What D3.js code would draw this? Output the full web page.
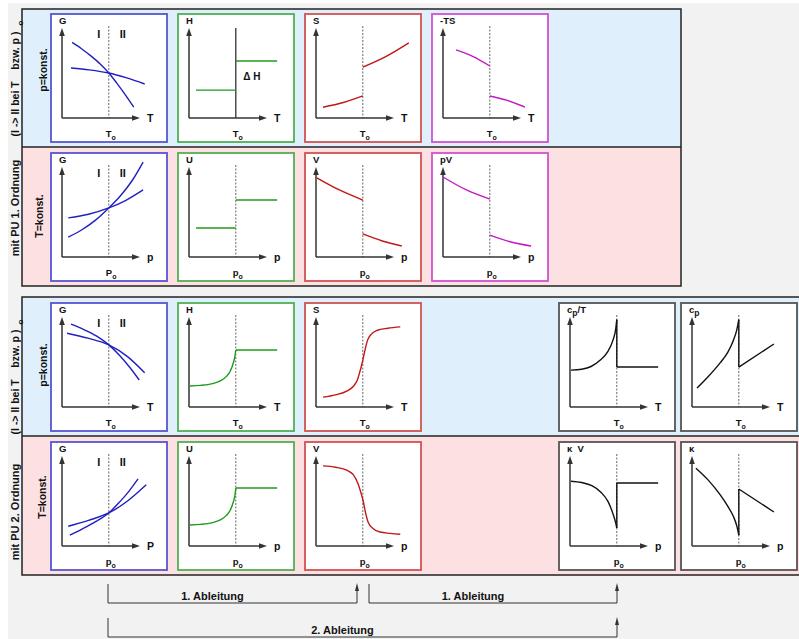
<!DOCTYPE html>
<html><head><meta charset="utf-8">
<script src="https://cdn.jsdelivr.net/npm/d3@7"></script>
<style>
html,body{margin:0;padding:0;background:#fff;}
svg{display:block;font-family:"Liberation Sans",Arial,Helvetica,sans-serif;font-weight:bold;}
</style>
</head><body>
<svg id="chart" width="799" height="639"></svg>
<script>
// ================= DATA =================
const transition = 6.0;            // T_o / p_o position on every x axis (domain 0..10)
const domain = [0, 10];

// --- Phase transition 1st order, p = konst. ---
const gT1_I   = [[1.3,8.4],[2.5,7.7],[3.7,6.9],[4.9,6.0],[6.0,5.0],[7.0,3.9],[8.1,2.6],[9.2,1.2]];
const gT1_II  = [[1.15,5.56],[3.5,5.35],[6.0,5.0],[8.3,4.45],[10.6,3.78]];
const h1_low  = [[0.9,3.1],[6.0,3.1]];
const h1_high = [[6.0,6.33],[11.3,6.33]];
const s1_low  = [[0.9,1.2],[3.5,1.72],[6.0,2.45]];
const s1_high = [[6.0,5.65],[9.0,6.85],[11.9,8.35]];
const ts1_high= [[1.67,7.56],[3.8,6.85],[6.0,5.78]];
const ts1_low = [[6.0,2.44],[8.25,1.95],[10.5,1.22]];

// --- Phase transition 1st order, T = konst. ---
const gp1_I   = [[0.8,2.2],[2.5,3.0],[4.3,4.1],[6.0,5.45],[7.5,6.8],[9.0,8.5],[10.4,10.55]];
const gp1_II  = [[0.8,4.35],[3.4,4.75],[6.0,5.45],[8.2,6.3],[10.4,7.45]];
const u1_low  = [[0.9,3.22],[6.0,3.22]];
const u1_high = [[6.0,6.33],[11.3,6.33]];
const v1_high = [[0.1,8.8],[3.0,7.45],[6.0,6.33]];
const v1_low  = [[6.0,2.56],[8.5,1.78],[11.0,1.22]];
const pv1_high= [[0.0,8.89],[3.0,7.45],[6.0,6.44]];
const pv1_low = [[6.0,2.44],[8.6,1.7],[11.3,1.22]];

// --- Phase transition 2nd order, p = konst. ---
const gT2_I   = [[1.15,9.2],[2.8,8.6],[4.4,7.9],[6.0,6.9],[7.3,5.8],[8.6,4.5],[9.9,3.0]];
const gT2_II  = [[0.65,8.2],[3.3,7.65],[6.0,6.9],[8.4,5.6],[10.6,3.8]];
const h2_curve= [[0.13,2.33],[1.5,2.4],[3.0,2.6],[4.0,2.9],[4.8,3.4],[5.3,4.0],[5.65,4.8],[5.88,5.6],[6.0,6.33]];
const h2_flat = [[6.0,6.33],[11.3,6.33]];
const s2      = [[0.9,1.1],[2.5,1.35],[4.0,1.8],[4.8,2.3],[5.3,3.0],[5.65,4.0],[5.95,5.0],[6.25,6.2],[6.6,7.4],[7.1,8.1],[7.8,8.5],[9.2,8.75],[10.8,8.9]];
const cpT_curve=[[0.13,4.1],[1.5,4.2],[2.7,4.5],[3.85,5.2],[4.8,6.1],[5.5,7.4],[5.85,8.6],[6.0,9.7]];
const cpT_jump= [[6.0,9.7],[6.0,4.44]];
const cpT_flat= [[6.0,4.44],[11.3,4.44]];
const cp_curve= [[0.64,2.1],[2.0,3.3],[3.6,4.9],[4.6,6.1],[5.3,7.4],[5.75,8.6],[6.0,9.7]];
const cp_jump = [[6.0,9.7],[6.0,4.44]];
const cp_line = [[6.0,4.44],[10.5,7.0]];

// --- Phase transition 2nd order, T = konst. ---
const gp2_I   = [[1.0,1.2],[2.5,1.85],[4.3,2.7],[6.0,3.67],[7.4,4.9],[8.6,6.1],[9.75,7.45]];
const gp2_II  = [[0.8,2.2],[3.4,2.85],[6.0,3.67],[8.4,5.0],[10.8,6.8]];
const u2_curve= [[0.13,2.33],[1.5,2.4],[3.0,2.6],[4.0,2.9],[4.8,3.4],[5.3,4.0],[5.65,4.8],[5.88,5.6],[6.0,6.44]];
const u2_flat = [[6.0,6.44],[11.3,6.44]];
const v2      = [[0.9,8.9],[2.5,8.75],[4.0,8.4],[4.8,7.9],[5.4,6.9],[5.8,5.8],[6.05,5.0],[6.35,3.7],[6.7,2.6],[7.3,1.95],[8.2,1.55],[9.5,1.4],[10.8,1.3]];
const kV_curve= [[0.13,7.2],[1.5,7.05],[2.8,6.7],[4.0,5.95],[4.9,4.9],[5.5,3.6],[5.85,2.6],[6.0,2.0]];
const kV_jump = [[6.0,2.0],[6.0,7.0]];
const kV_flat = [[6.0,7.0],[11.3,7.0]];
const k_curve = [[0.5,8.65],[2.0,7.4],[3.6,5.7],[4.6,4.4],[5.3,3.3],[5.75,2.2],[6.0,1.2]];
const k_jump  = [[6.0,1.2],[6.0,6.33]];
const k_line  = [[6.0,6.33],[10.5,3.78]];

// Labels
const rowSideLabels = ["p=konst.", "T=konst.", "p=konst.", "T=konst."];
const blockLabels = ["mit PU 1. Ordnung", "mit PU 2. Ordnung"];
const blockSubLabel = "(I -> II bei T    bzw. p )";
const derivLabels = ["1. Ableitung", "1. Ableitung", "2. Ableitung"];

// ================= LAYOUT / STYLE =================
const colX = {A:51, B:178, C:305, D:432, E:559, F:681};
const rowY = [14, 153, 303, 442];
const PW = 116, PH = 128;
const palette = {
  blue:   {border:"#5656d2", stroke:"#2020c0"},
  green:  {border:"#52b052", stroke:"#1c9c1c"},
  red:    {border:"#d25252", stroke:"#c01818"},
  magenta:{border:"#d052d0", stroke:"#c418c4"},
  gray:   {border:"#555555", stroke:"#111111"}
};

const panels = [
  {c:"A",r:0,col:"blue",y:"G",x:"T",sub:"T",phases:true,curves:[gT1_I,gT1_II]},
  {c:"B",r:0,col:"green",y:"H",x:"T",sub:"T",solidV:true,lines:[h1_low,h1_high],dH:true},
  {c:"C",r:0,col:"red",y:"S",x:"T",sub:"T",curves:[s1_low,s1_high]},
  {c:"D",r:0,col:"magenta",y:"-TS",x:"T",sub:"T",curves:[ts1_high,ts1_low]},
  {c:"A",r:1,col:"blue",y:"G",x:"p",sub:"P",phases:true,curves:[gp1_I,gp1_II]},
  {c:"B",r:1,col:"green",y:"U",x:"p",sub:"p",lines:[u1_low,u1_high]},
  {c:"C",r:1,col:"red",y:"V",x:"p",sub:"p",curves:[v1_high,v1_low]},
  {c:"D",r:1,col:"magenta",y:"pV",x:"p",sub:"p",curves:[pv1_high,pv1_low]},
  {c:"A",r:2,col:"blue",y:"G",x:"T",sub:"T",phases:true,curves:[gT2_I,gT2_II]},
  {c:"B",r:2,col:"green",y:"H",x:"T",sub:"T",curves:[h2_curve],lines:[h2_flat]},
  {c:"C",r:2,col:"red",y:"S",x:"T",sub:"T",curves:[s2]},
  {c:"E",r:2,col:"gray",y:"cpT",x:"T",sub:"T",curves:[cpT_curve],lines:[cpT_jump,cpT_flat]},
  {c:"F",r:2,col:"gray",y:"cp",x:"T",sub:"T",curves:[cp_curve],lines:[cp_jump,cp_line]},
  {c:"A",r:3,col:"blue",y:"G",x:"P",sub:"p",phases:true,curves:[gp2_I,gp2_II]},
  {c:"B",r:3,col:"green",y:"U",x:"p",sub:"p",curves:[u2_curve],lines:[u2_flat]},
  {c:"C",r:3,col:"red",y:"V",x:"p",sub:"p",curves:[v2]},
  {c:"E",r:3,col:"gray",y:"kV",x:"p",sub:"p",curves:[kV_curve],lines:[kV_jump,kV_flat]},
  {c:"F",r:3,col:"gray",y:"k",x:"p",sub:"p",curves:[k_curve],lines:[k_jump,k_line]}
];

const svg = d3.select("#chart");
svg.append("rect").attr("x",0).attr("y",0).attr("width",799).attr("height",639).attr("fill","#ffffff");
svg.append("rect").attr("x",8).attr("y",3).attr("width",791).attr("height",636).attr("fill","#f2f2f2");

// Blocks
const blocks = [
  {x:22, y:9, w:659, h:277, split:147, label:blockLabels[0], lc:208, sc:84, oy:23},
  {x:22, y:297, w:800, h:278, split:436, label:blockLabels[1], lc:512, sc:382, oy:322}
];
blocks.forEach(b => {
  svg.append("rect").attr("x",b.x).attr("y",b.y).attr("width",b.w).attr("height",b.split-b.y).attr("fill","#dff0fc");
  svg.append("rect").attr("x",b.x).attr("y",b.split).attr("width",b.w).attr("height",b.y+b.h-b.split).attr("fill","#fde0e1");
  svg.append("rect").attr("x",b.x).attr("y",b.y).attr("width",b.w).attr("height",b.h)
    .attr("fill","none").attr("stroke","#222").attr("stroke-width",1.5);
  svg.append("line").attr("x1",b.x).attr("x2",b.x+b.w).attr("y1",b.split).attr("y2",b.split)
    .attr("stroke","#222").attr("stroke-width",1.5);
  svg.append("text").attr("transform",`translate(15,${b.lc}) rotate(-90)`)
    .attr("text-anchor","middle").attr("dominant-baseline","central")
    .attr("font-size",11).attr("fill","#111").text(b.label);
  svg.append("text").attr("transform",`translate(15,${b.sc}) rotate(-90)`)
    .attr("text-anchor","middle").attr("dominant-baseline","central")
    .attr("font-size",10.5).attr("fill","#111").attr("xml:space","preserve").text(blockSubLabel);
  svg.append("text").attr("transform",`translate(20,${b.oy}) rotate(-90)`)
    .attr("text-anchor","middle").attr("dominant-baseline","central")
    .attr("font-size",8).attr("fill","#111").text("o");
});

// side row labels
const sideCenters = [70, 216, 365, 497];
const sideX = [43, 39, 43, 42];
rowSideLabels.forEach((t,i) => {
  svg.append("text").attr("transform",`translate(${sideX[i]},${sideCenters[i]}) rotate(-90)`)
    .attr("text-anchor","middle").attr("dominant-baseline","central")
    .attr("font-size",10.5).attr("fill","#111").text(t);
});

// Panels
const xs = d3.scaleLinear().domain(domain).range([11, 89]);
const ys = d3.scaleLinear().domain(domain).range([104, 14]);
const smooth = d3.line().x(d=>xs(d[0])).y(d=>ys(d[1])).curve(d3.curveMonotoneX);
const straight = d3.line().x(d=>xs(d[0])).y(d=>ys(d[1]));

panels.forEach(p => {
  const pal = palette[p.col];
  const g = svg.append("g").attr("transform",`translate(${colX[p.c]},${rowY[p.r]})`);
  g.append("rect").attr("x",0).attr("y",0).attr("width",PW).attr("height",PH)
    .attr("fill","#fff").attr("stroke",pal.border).attr("stroke-width",1.8);
  const x0 = xs(0), y0 = ys(0), xe = xs(10), ye = ys(10), xt = xs(transition);
  if (p.solidV) {
    g.append("line").attr("x1",xt).attr("x2",xt).attr("y1",ye).attr("y2",y0)
      .attr("stroke","#333").attr("stroke-width",1.3);
  } else {
    g.append("line").attr("x1",xt).attr("x2",xt).attr("y1",ye-2).attr("y2",y0)
      .attr("stroke","#555").attr("stroke-width",0.9).attr("stroke-dasharray","2,1.5");
  }
  g.append("line").attr("x1",x0).attr("x2",xe-4).attr("y1",y0).attr("y2",y0).attr("stroke","#333").attr("stroke-width",1.5);
  g.append("line").attr("x1",x0).attr("x2",x0).attr("y1",y0).attr("y2",ye+4).attr("stroke","#333").attr("stroke-width",1.5);
  g.append("path").attr("d",`M${xe},${y0}L${xe-8},${y0-2.8}L${xe-8},${y0+2.8}Z`).attr("fill","#333");
  g.append("path").attr("d",`M${x0},${ye}L${x0-2.8},${ye+8}L${x0+2.8},${ye+8}Z`).attr("fill","#333");
  (p.curves||[]).forEach(c => g.append("path").attr("d",smooth(c)).attr("fill","none")
    .attr("stroke",pal.stroke).attr("stroke-width",1.4));
  (p.lines||[]).forEach(c => g.append("path").attr("d",straight(c)).attr("fill","none")
    .attr("stroke",pal.stroke).attr("stroke-width",1.4));
  const yl = g.append("text").attr("x",x0-3).attr("y",10).attr("font-size",9.5).attr("fill","#111");
  if (p.y === "cpT") { yl.append("tspan").text("c"); yl.append("tspan").attr("dy",3).attr("font-size",8.5).text("p"); yl.append("tspan").attr("dy",-3).text("/T"); }
  else if (p.y === "cp") { yl.append("tspan").text("c"); yl.append("tspan").attr("dy",3).attr("font-size",8.5).text("p"); }
  else if (p.y === "kV") { yl.attr("xml:space","preserve").text("\u03BA  V"); }
  else if (p.y === "k") { yl.text("\u03BA"); }
  else yl.text(p.y);
  g.append("text").attr("x",xe+7).attr("y",y0+4).attr("font-size",10.5).attr("fill","#111").text(p.x);
  const sl = g.append("text").attr("x",xt-3).attr("y",y0+19).attr("font-size",9.5).attr("fill","#111");
  sl.append("tspan").text(p.sub);
  sl.append("tspan").attr("dy",3).attr("font-size",7).text("o");
  if (p.phases) {
    g.append("text").attr("x",xt-10).attr("y",24).attr("font-size",11).attr("text-anchor","middle").attr("fill","#111").text("I");
    g.append("text").attr("x",xt+14).attr("y",24).attr("font-size",11).attr("text-anchor","middle").attr("fill","#111").text("II");
  }
  if (p.dH) {
    g.append("text").attr("x",xt+16).attr("y",66).attr("font-size",10).attr("text-anchor","middle").attr("fill","#111").attr("xml:space","preserve").text("\u0394 H");
  }
});

// Derivative brackets
const brackets = [
  {x1:108, x2:357, top:584, bot:603, ty:600, label:derivLabels[0]},
  {x1:369, x2:617, top:584, bot:603, ty:600, label:derivLabels[1]},
  {x1:108, x2:617, top:618, bot:637, ty:634, label:derivLabels[2]}
];
brackets.forEach(b => {
  svg.append("path").attr("d",`M${b.x1},${b.top}V${b.bot}H${b.x2}V${b.top+5}`)
    .attr("fill","none").attr("stroke","#333").attr("stroke-width",1);
  svg.append("path").attr("d",`M${b.x2},${b.top-1}L${b.x2-2},${b.top+7}L${b.x2+2},${b.top+7}Z`).attr("fill","#333");
  svg.append("text").attr("x",(b.x1+b.x2)/2 - 20).attr("y",b.ty).attr("text-anchor","middle")
    .attr("font-size",11).attr("fill","#111").text(b.label);
});
</script>
</body></html>
